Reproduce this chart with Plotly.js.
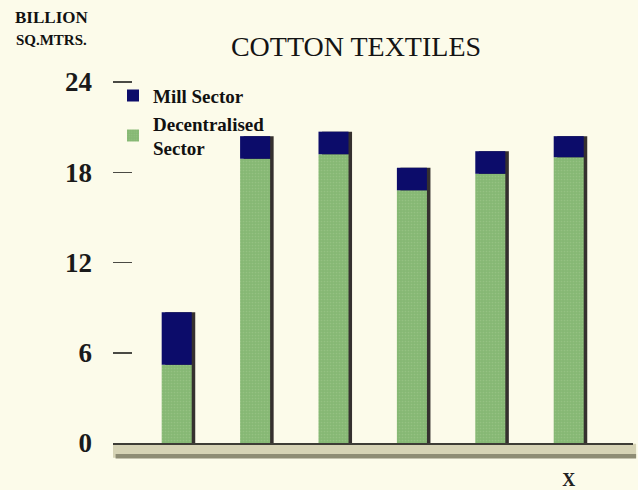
<!DOCTYPE html>
<html>
<head>
<meta charset="utf-8">
<script src="https://cdn.plot.ly/plotly-3.0.1.min.js"></script>
<style>
html,body{margin:0;padding:0;background:#fcfbea;}
#chart{width:638px;height:490px;}
</style>
</head>
<body>
<div id="chart"></div>
<script>
// Data (billion sq. metres)
const positions = [0, 1, 2, 3, 4, 5];
const tickLabels = ["", "", "", "", "", "X"];
const decentralised = [5.2, 18.9, 19.2, 16.8, 17.9, 19.0];
const mill = [3.5, 1.5, 1.5, 1.5, 1.5, 1.4];
const yTicks = [0, 6, 12, 18, 24];

const totals = decentralised.map((d, i) => d + mill[i]);
const BW = 0.383;
const serif = "Liberation Serif, Times New Roman, serif";

const shadow = {
  type: "bar", x: positions, y: totals, width: BW, offset: -BW / 2 + 0.045,
  marker: {color: "#35302f", line: {width: 0}},
  showlegend: false, hoverinfo: "skip"
};
const dec = {
  type: "bar", name: "Decentralised<br>Sector", x: positions, y: decentralised,
  width: BW, offset: -BW / 2,
  marker: {color: "#86b874", line: {width: 0},
           pattern: {shape: ".", size: 3, solidity: 0.25, fgcolor: "#a3c98f", fillmode: "overlay"}},
  legendrank: 2
};
const millTrace = {
  type: "bar", name: "Mill Sector", x: positions, y: mill, base: decentralised,
  width: BW, offset: -BW / 2,
  marker: {color: "#0c0c6a", line: {width: 0}},
  legendrank: 1
};

const layout = {
  width: 638, height: 490,
  paper_bgcolor: "#fcfbea", plot_bgcolor: "#fcfbea",
  margin: {l: 113, r: 5, t: 73, b: 47},
  barmode: "overlay",
  title: {
    text: "COTTON TEXTILES",
    font: {family: serif, size: 28, color: "#141414"},
    x: 0.558, xref: "container", xanchor: "center",
    y: 0.906, yref: "container", yanchor: "middle"
  },
  xaxis: {
    range: [-0.8125, 5.82],
    tickmode: "array", tickvals: positions, ticktext: tickLabels,
    ticks: "", showgrid: false, zeroline: false,
    showline: true, linecolor: "#3e3d36", linewidth: 2,
    tickfont: {family: serif, size: 18, color: "#222", weight: "bold"},
    ticklabelstandoff: 19
  },
  yaxis: {
    range: [0, 24.6],
    tickmode: "array", tickvals: yTicks, ticktext: yTicks.map(String),
    ticks: "inside", ticklen: 19, tickwidth: 1.5, tickcolor: "#4a4a44",
    showgrid: false, zeroline: false, showline: false,
    tickfont: {family: serif, size: 27, color: "#1a1a1a", weight: "bold"},
    ticklabelstandoff: 20
  },
  legend: {
    x: 0.0, y: 0.99, xanchor: "left", yanchor: "top",
    bgcolor: "rgba(0,0,0,0)", traceorder: "normal",
    font: {family: serif, size: 19, color: "#111", weight: "bold"},
    itemwidth: 30, tracegroupgap: 0
  },
  shapes: [
    {type: "rect", xref: "paper", yref: "paper", x0: 0, x1: 1.006, y0: -0.002, y1: -0.04,
     fillcolor: "#d6d3b5", line: {width: 0}, layer: "below"},
    {type: "rect", xref: "paper", yref: "paper", x0: 0.005, x1: 1.006, y0: -0.03, y1: -0.042,
     fillcolor: "#8e8c74", line: {width: 0}, layer: "below"}
  ],
  annotations: [
    {text: "<b>BILLION</b><br><b><span style='font-size:15px'>SQ.MTRS.</span></b>",
     xref: "paper", yref: "paper", x: -0.118, y: 1.122, xanchor: "center", yanchor: "middle",
     showarrow: false, align: "center",
     font: {family: serif, size: 17, color: "#111"}}
  ],
  showlegend: true
};

Plotly.newPlot("chart", [shadow, dec, millTrace], layout, {staticPlot: true, displayModeBar: false});
</script>
</body>
</html>
